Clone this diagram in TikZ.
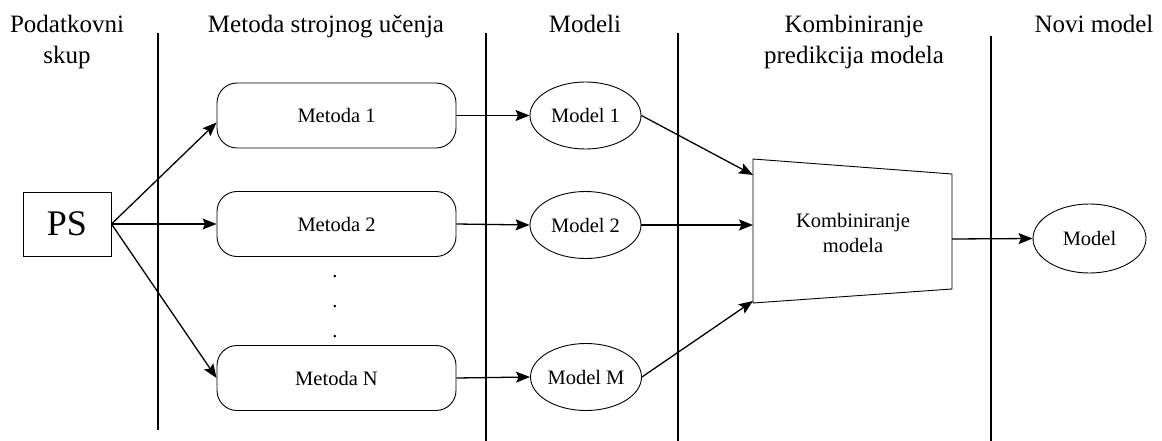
\documentclass[tikz,border=0pt]{standalone}
\usepackage{fontspec}
\setmainfont{Liberation Serif}
\usetikzlibrary{arrows.meta, shapes.geometric}

\tikzset{
  naslov/.style={font=\fontsize{25}{31}\selectfont, align=center, anchor=base, inner sep=0pt},
  metoda/.style={draw, rounded corners=20pt, minimum width=239pt, minimum height=65pt, font=\fontsize{20.5}{25}\selectfont},
  model/.style={draw, ellipse, minimum width=111pt, minimum height=67pt, inner sep=0pt, font=\fontsize{20.5}{25}\selectfont},
  strelica/.style={-{Stealth[length=14pt, width=11pt, inset=2.5pt]}, line width=1.3pt},
  granica/.style={line width=1.2pt},
}

\begin{document}
\begin{tikzpicture}[x=1pt, y=-1pt, line width=0.9pt]
                \useasboundingbox (0,0) rectangle (1162,441);
                % naslovi stupaca
                \node[naslov] (nPS) at (67,64) {Podatkovni\\skup};
                \node[naslov] (nMet) at (326,33) {Metoda strojnog učenja};
                \node[naslov] (nMod) at (585,33) {Modeli};
                \node[naslov] (nKomb) at (854,64) {Kombiniranje\\predikcija modela};
                \node[naslov] (nNovi) at (1094,33) {Novi model};
                % granice stupaca
                \draw[granica] (158,33) -- (158,430);
                \draw[granica] (486,33) -- (486,441);
                \draw[granica] (678,33) -- (678,441);
                \draw[granica] (991,36) -- (991,441);
                % cvorovi
                \node[draw, minimum width=88pt, minimum height=64pt, font=\fontsize{36}{40}\selectfont] (ps) at (67,224) {PS};
                \node[metoda] (m1) at (336.5,115.5) {Metoda 1};
                \node[metoda] (m2) at (336.5,224) {Metoda 2};
                \node[metoda] (mN) at (336.5,378) {Metoda N};
                \foreach \y in {277,307,337}
                    \node[font=\fontsize{20.5}{25}\selectfont, inner sep=0pt] (tocka\y) at (335,\y) {.};
                \node[model] (mod1) at (585.5,115.5) {Model 1};
                \node[model] (mod2) at (585.5,225) {Model 2};
                \node[model] (modM) at (586,377) {Model M};
                \draw (753,159) -- (952,174) -- (952,289) -- (753,303) -- cycle;
                \node[font=\fontsize{20.5}{25}\selectfont, align=center] (komb) at (853,232.5) {Kombiniranje\\modela};
                \coordinate (k1) at (753,175);
                \coordinate (k2) at (753,225);
                \coordinate (k3) at (753,301);
                \coordinate (k4) at (952,239);
                \node[model, minimum width=113pt, minimum height=69pt] (novi) at (1089.5,238.5) {Model};
                % veze
                \draw[strelica] (ps.east) -- ([yshift=-7pt]m1.west);
                \draw[strelica] (ps.east) -- (m2.west);
                \draw[strelica] (ps.east) -- (mN.west);
                \draw[strelica] (m1.east) -- (mod1.west);
                \draw[strelica] (m2.east) -- (mod2.west);
                \draw[strelica] (mN.east) -- (modM.west);
                \draw[strelica] (mod1.east) -- (k1);
                \draw[strelica] (mod2.east) -- (k2);
                \draw[strelica] (modM.east) -- (k3);
                \draw[strelica] (k4) -- (novi.west);
            \end{tikzpicture}
\end{document}
